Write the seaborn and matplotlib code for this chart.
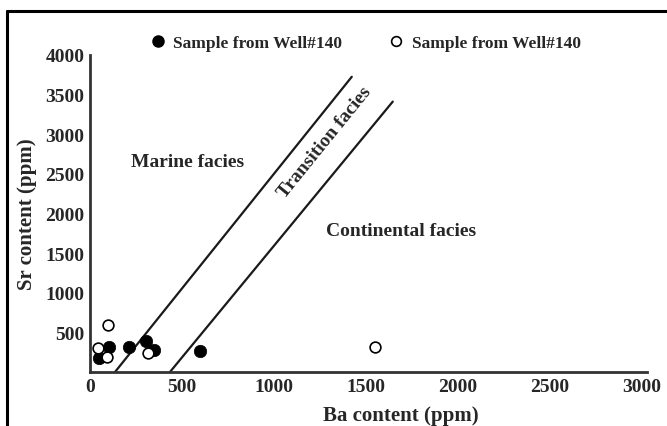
import matplotlib
matplotlib.use("Agg")
import matplotlib.pyplot as plt
import seaborn as sns
import pandas as pd
from matplotlib.lines import Line2D

# data (ppm)
filled_ba = [50, 105, 212, 304, 350, 598]
filled_sr = [175, 310, 310, 390, 275, 260]
open_ba = [45, 90, 100, 317, 1549]
open_sr = [300, 185, 590, 240, 315]

# facies boundary lines
left_ba = [136, 1424]
left_sr = [0, 3725]
right_ba = [435, 1647]
right_sr = [0, 3412]

x_ticks = [0, 500, 1000, 1500, 2000, 2500, 3000]
y_ticks = [500, 1000, 1500, 2000, 2500, 3000, 3500, 4000]
legend_label = "Sample from Well#140"

sns.set_style("white")
plt.rcParams["font.family"] = ["Liberation Serif", "DejaVu Serif"]
plt.rcParams["font.weight"] = "bold"

fig = plt.figure(figsize=(6.67, 4.27), dpi=100)
ax = fig.add_axes([90 / 667, 1 - 373 / 427, 557 / 667, 317 / 427])

df_filled = pd.DataFrame({"Ba": filled_ba, "Sr": filled_sr})
df_open = pd.DataFrame({"Ba": open_ba, "Sr": open_sr})

sns.lineplot(x=left_ba, y=left_sr, ax=ax, color="#1a1a1a", linewidth=1.6)
sns.lineplot(x=right_ba, y=right_sr, ax=ax, color="#1a1a1a", linewidth=1.6)
sns.scatterplot(data=df_filled, x="Ba", y="Sr", ax=ax, s=80, color="black",
                edgecolor="black", linewidth=0.5, zorder=3)
sns.scatterplot(data=df_open, x="Ba", y="Sr", ax=ax, s=60, facecolor="white",
                edgecolor="black", linewidth=1.2, zorder=3)

ax.set_xlim(0, 3030)
ax.set_ylim(0, 4000)
ax.set_xticks(x_ticks)
ax.set_yticks(y_ticks)
ax.tick_params(direction="in", length=5, width=2, color="#333333",
               labelsize=14, pad=4)
for lab in ax.get_xticklabels() + ax.get_yticklabels():
    lab.set_fontweight("bold")
for side in ["top", "right"]:
    ax.spines[side].set_visible(False)
for side in ["left", "bottom"]:
    ax.spines[side].set_linewidth(2)
    ax.spines[side].set_color("#333333")

ax.set_xlabel("Ba content (ppm)", fontsize=15, fontweight="bold")
ax.set_ylabel("Sr content (ppm)", fontsize=15, fontweight="bold")
ax.xaxis.set_label_coords(0.558, -0.105)
ax.yaxis.set_label_coords(-0.095, 0.5)

ax.text(533, 2660, "Marine facies", fontsize=14, fontweight="bold",
        ha="center", va="center")
ax.text(1692, 1785, "Continental facies", fontsize=14, fontweight="bold",
        ha="center", va="center")
ax.text(1275, 2900, "Transition facies", fontsize=14, fontweight="bold",
        ha="center", va="center", rotation=51, rotation_mode="anchor")

handles = [
    Line2D([], [], marker="o", linestyle="none", markersize=8,
           markerfacecolor="black", markeredgecolor="black"),
    Line2D([], [], marker="o", linestyle="none", markersize=7,
           markerfacecolor="white", markeredgecolor="black", markeredgewidth=1.2),
]
fig.legend(handles, [legend_label, legend_label], ncol=2, frameon=False,
           loc="center left", bbox_to_anchor=(149 / 667, 1 - 44 / 427),
           prop={"family": "Liberation Serif", "weight": "bold", "size": 12.5},
           handlelength=1.0, handletextpad=0.4, columnspacing=2.6,
           borderaxespad=0, borderpad=0)

# outer frame (left and top edges only)
fig.add_artist(Line2D([7 / 667, 7 / 667], [0, 1 - 12 / 427],
                      transform=fig.transFigure, color="black", linewidth=2.2))
fig.add_artist(Line2D([7 / 667, 1], [1 - 12 / 427, 1 - 12 / 427],
                      transform=fig.transFigure, color="black", linewidth=2.2))

fig.savefig("out.png", dpi=100)
